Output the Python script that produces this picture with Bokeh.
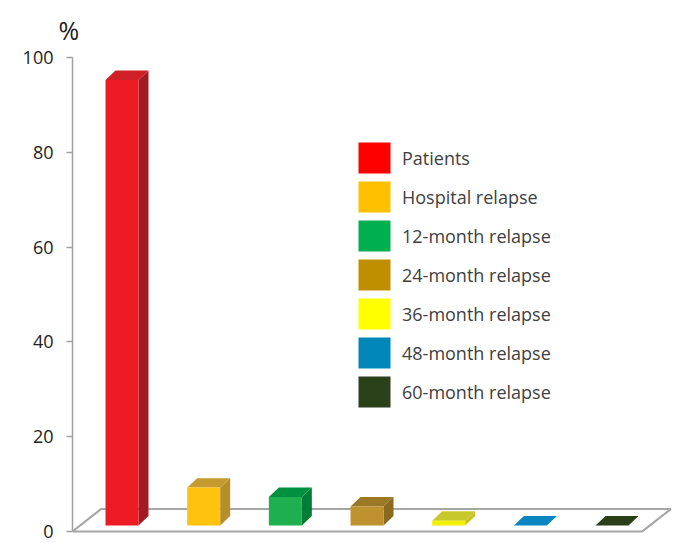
import numpy as np
from bokeh.plotting import figure
from bokeh.models import (Range1d, LinearAxis, FixedTicker, Legend, LegendItem,
                          ColumnDataSource)
from bokeh.embed import file_html
from bokeh.resources import INLINE

# Relapse rates (%)
categories = ["Patients", "Hospital relapse", "12-month relapse", "24-month relapse",
              "36-month relapse", "48-month relapse", "60-month relapse"]
percent = [94, 8, 6, 4, 1, 0, 0]
y_ticks = [0, 20, 40, 60, 80, 100]

legend_colors = ["#FF0000", "#FFC000", "#00B050", "#BF8F00", "#FFFF00", "#0086B8", "#2B4119"]
front_colors = ["#ED1C24", "#FFC20E", "#1EAF4E", "#C0922F", "#F5F000", "#0B86C0", "#2A3F18"]
side_colors = ["#A21B22", "#B58D2B", "#007D37", "#8B6A20", "#C9C320", "#066A9A", "#1D2D10"]
top_colors = ["#CF1F27", "#C59A2E", "#00903F", "#9C7826", "#C8C82A", "#0B86C0", "#2A3F18"]

# layout (pixels)
W, H = 677, 543
B_LEFT, B_TOP, B_BOTTOM, B_RIGHT = 72, 52, 5, 2
X0, X1 = -0.606, 6.777
Y0, Y1 = -1.5, 100.0
px_x = (W - B_LEFT - B_RIGHT) / (X1 - X0)
px_y = (H - B_TOP - B_BOTTOM) / (Y1 - Y0)

p = figure(width=W, height=H, x_range=Range1d(X0, X1), y_range=Range1d(Y0, Y1),
           output_backend="svg", toolbar_location=None,
           x_axis_location=None, y_axis_location=None, title="%",
           min_border_left=B_LEFT, min_border_top=B_TOP,
           min_border_bottom=B_BOTTOM, min_border_right=B_RIGHT)
p.outline_line_color = None
p.grid.visible = False
p.background_fill_color = "white"

# "%" unit caption above the value axis
p.title.align = "left"
p.title.offset = -14
p.title.standoff = 21
p.title.text_font = "Open Sans"
p.title.text_font_style = "normal"
p.title.text_font_size = "25px"
p.title.text_color = "#222222"

# value axis
axis = LinearAxis(ticker=FixedTicker(ticks=y_ticks), bounds=(0, 100))
axis.axis_line_color = "#A0A0A0"
axis.axis_line_width = 1.5
axis.major_tick_line_color = "#A0A0A0"
axis.major_tick_line_width = 1.5
axis.major_tick_out = 6
axis.major_tick_in = 0
axis.minor_tick_line_color = None
axis.major_label_standoff = 13
axis.major_label_text_font = "Open Sans"
axis.major_label_text_font_size = "18px"
axis.major_label_text_color = "#222222"
p.add_layout(axis, "left")

n = len(categories)
xs = np.arange(n, dtype=float)
vals = np.array(percent, dtype=float)

# 3D geometry in data units
bar_w = 33 / px_x
bdx, bdy = 10 / px_x, 9.5 / px_y
base = 6 / px_y
fdx, fdy = 28.5 / px_x, 22.5 / px_y
floor_right = (n - 1) + 0.37

# floor outline
p.line([X0, floor_right, floor_right + fdx, X0 + fdx, X0],
       [0, 0, fdy, fdy, 0], line_color="#A6A6A6", line_width=2)

left = xs - bar_w / 2
right = xs + bar_w / 2
top = base + vals

side_x = [[r, r + bdx, r + bdx, r] for r in right]
side_y = [[base, base + bdy, t + bdy, t] for t in top]
top_x = [[l, r, r + bdx, l + bdx] for l, r in zip(left, right)]
top_y = [[t, t, t + bdy, t + bdy] for t in top]

p.patches(side_x, side_y, fill_color=side_colors, line_color=None)
p.patches(top_x, top_y, fill_color=top_colors, line_color=None)
p.quad(left=left, right=right, bottom=base, top=top,
       fill_color=front_colors, line_color=None)

# legend swatches
leg_src = ColumnDataSource(dict(x=xs, c=legend_colors))
proxy = p.quad(left="x", right="x", bottom=0, top=0, fill_color="c",
               line_color=None, source=leg_src)

legend = Legend(items=[LegendItem(label=c, renderers=[proxy], index=i)
                       for i, c in enumerate(categories)],
                location=(282, 127), orientation="vertical",
                glyph_width=40, glyph_height=39, label_height=39,
                spacing=0, label_standoff=8, padding=0, margin=0,
                border_line_color=None, background_fill_alpha=0,
                label_text_font="Open Sans", label_text_font_size="18px",
                label_text_color="#404040")
p.add_layout(legend)

open("out.html", "w").write(file_html(p, INLINE))
